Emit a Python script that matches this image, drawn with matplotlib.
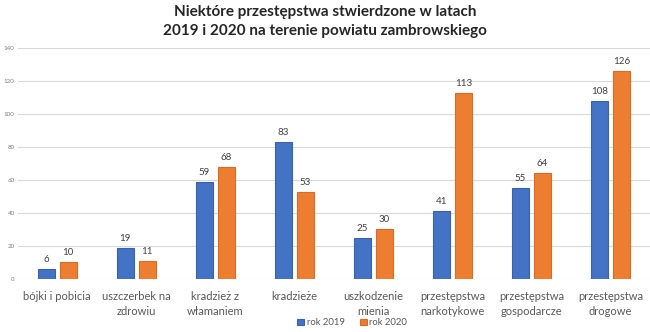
import matplotlib.pyplot as plt
import numpy as np

plt.rcParams["font.family"] = ["Lato", "DejaVu Sans"]

categories = [
    "bójki i pobicia",
    "uszczerbek na\nzdrowiu",
    "kradzież z\nwłamaniem",
    "kradzieże",
    "uszkodzenie\nmienia",
    "przestępstwa\nnarkotykowe",
    "przestępstwa\ngospodarcze",
    "przestępstwa\ndrogowe",
]
rok_2019 = [6, 19, 59, 83, 25, 41, 55, 108]
rok_2020 = [10, 11, 68, 53, 30, 113, 64, 126]
y_ticks = [0, 20, 40, 60, 80, 100, 120, 140]

blue = "#4472C4"
orange = "#ED7D31"
text_gray = "#595959"

fig = plt.figure(figsize=(6.5, 3.32), dpi=100)
ax = fig.add_axes([0.027, 0.160, 0.973, 0.695])

x = np.arange(len(categories))
w = 0.215
off = 0.14
b1 = ax.bar(x - off, rok_2019, w, color=blue, edgecolor="#3A62AA", linewidth=0.8,
            label="rok 2019", zorder=3)
b2 = ax.bar(x + off, rok_2020, w, color=orange, edgecolor="#D96C24", linewidth=0.8,
            label="rok 2020", zorder=3)

for bars, vals in ((b1, rok_2019), (b2, rok_2020)):
    for rect, v in zip(bars, vals):
        ax.text(rect.get_x() + rect.get_width() / 2, v + 3, str(v),
                ha="center", va="bottom", fontsize=7, color="#404040")

ax.set_xlim(-0.5, len(categories) - 0.5)
ax.set_ylim(0, 140)
ax.set_yticks(y_ticks)
ax.set_yticklabels([str(t) for t in y_ticks], fontsize=4.5, color="#7F7F7F")
ax.set_xticks(x)
ax.set_xticklabels(categories, fontsize=8, color=text_gray, linespacing=1.45)
ax.tick_params(axis="both", length=0)
ax.tick_params(axis="y", pad=2)
ax.tick_params(axis="x", pad=9)
ax.grid(axis="y", color="#D9D9D9", linewidth=0.8, zorder=0)
for s in ax.spines.values():
    s.set_visible(False)

fig.suptitle("Niektóre przestępstwa stwierdzone w latach\n2019 i 2020 na terenie powiatu zambrowskiego",
             x=0.50, y=0.985, fontsize=11, fontweight="bold", color="#262626",
             linespacing=1.45, va="top")

fig.legend(handles=[b1, b2], loc="center", bbox_to_anchor=(0.542, 0.028), ncol=2,
           frameon=False, fontsize=6.8, labelcolor=text_gray, handlelength=0.7,
           handleheight=0.7, handletextpad=0.3, columnspacing=1.6)

fig.savefig("out.png", dpi=100)
